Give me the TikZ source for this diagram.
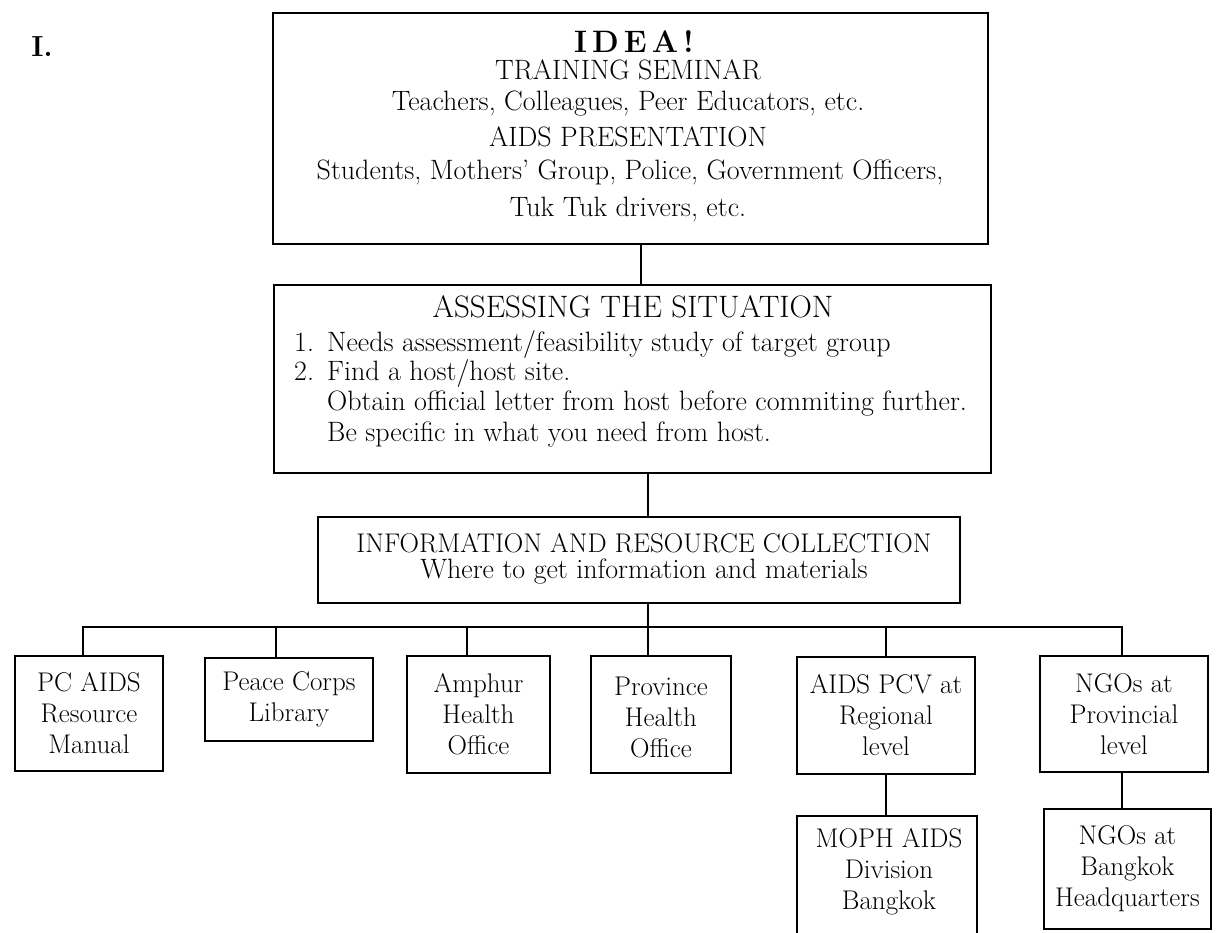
\documentclass[tikz,border=0pt]{standalone}
\usepackage{fontspec}
\begin{document}
\begin{tikzpicture}[x=1pt,y=-1pt,
  box/.style={draw,line width=1.9pt,inner sep=0pt,anchor=north west},
  btxt/.style={font=\fontsize{27}{31}\selectfont,align=center,inner sep=0pt},
  ttxt/.style={font=\fontsize{28}{32}\selectfont,inner sep=0pt,anchor=base},
  conn/.style={line width=1.9pt}]
\useasboundingbox (0,0) rectangle (1216,933);
% section label
\node[font=\fontsize{29}{32}\selectfont\bfseries,inner sep=0pt,anchor=base] (lab) at (42,57) {I.};
% top box
\node[box,minimum width=715pt,minimum height=231pt] (top) at (272,12) {};
\node[inner sep=0pt,anchor=base,font=\fontsize{31}{34}\selectfont\bfseries] (idea) at (634,53) {I\kern5pt D\kern5pt E\kern5pt A\kern5pt !};
\node[ttxt] (t1) at (628,80) {TRAINING SEMINAR};
\node[ttxt] (t2) at (628,111) {Teachers, Colleagues, Peer Educators, etc.};
\node[ttxt] (t3) at (628,147) {AIDS PRESENTATION};
\node[ttxt] (t4) at (630,180) {Students, Mothers' Group, Police, Government Officers,};
\node[ttxt] (t5) at (628,217) {Tuk Tuk drivers, etc.};
% assessing box
\node[box,minimum width=717pt,minimum height=188pt] (ass) at (273,284) {};
\node[font=\fontsize{31}{34}\selectfont,inner sep=0pt,anchor=base] (a0) at (633,318) {ASSESSING THE SITUATION};
\node[ttxt,anchor=base west] (a1) at (294,352) {\makebox[33pt][l]{1.}Needs assessment/feasibility study of target group};
\node[ttxt,anchor=base west] (a2) at (294,381) {\makebox[33pt][l]{2.}Find a host/host site.};
\node[ttxt,anchor=base west] (a3) at (327,410) {Obtain official letter from host before commiting further.};
\node[ttxt,anchor=base west] (a4) at (327,441) {Be specific in what you need from host.};
% info box
\node[box,minimum width=642pt,minimum height=86pt] (info) at (317,516) {};
\node[ttxt,font=\fontsize{27}{30}\selectfont] (i1) at (644,552) {INFORMATION AND RESOURCE COLLECTION};
\node[ttxt] (i2) at (644,578) {Where to get information and materials};
% connectors top
\draw[conn] (top.south -| 641,0) -- (ass.north -| 641,0);
\draw[conn] (ass.south -| 648,0) -- (info.north -| 648,0);
% bottom boxes
\node[box,minimum width=148pt,minimum height=115pt] (b1) at (14,655) {};
\node[btxt] (b1t) at (b1.center) {PC AIDS\\Resource\\Manual};
\node[box,minimum width=168pt,minimum height=83pt] (b2) at (204,657) {};
\node[btxt] (b2t) at (b2.center) {Peace Corps\\Library};
\node[box,minimum width=143pt,minimum height=117pt] (b3) at (406,655) {};
\node[btxt] (b3t) at (b3.center) {Amphur\\Health\\Office};
\node[box,minimum width=140pt,minimum height=117pt] (b4) at (590,655) {};
\node[btxt] (b4t) at ([yshift=-3pt]b4.center) {Province\\Health\\Office};
\node[box,minimum width=178pt,minimum height=117pt] (b5) at (796,656) {};
\node[btxt] (b5t) at (b5.center) {AIDS PCV at\\Regional\\level};
\node[box,minimum width=168pt,minimum height=116pt] (b6) at (1039,655) {};
\node[btxt] (b6t) at (b6.center) {NGOs at\\Provincial\\level};
\node[box,minimum width=180pt,minimum height=130pt] (b7) at (796,815) {};
\node[btxt] (b7t) at (889,872) {MOPH AIDS\\Division\\Bangkok};
\node[box,minimum width=167pt,minimum height=120pt] (b8) at (1043,808) {};
\node[btxt] (b8t) at (b8.center) {NGOs at\\Bangkok\\Headquarters};
% bus
\coordinate (bus) at (648,627);
\draw[conn] (info.south -| bus) -- (bus);
\draw[conn] (b1.north -| 83,0) |- (bus);
\draw[conn] (b6.north -| 1122,0) |- (bus);
\draw[conn] (b2.north -| 276,0) -- (bus -| 276,0);
\draw[conn] (b3.north -| 467,0) -- (bus -| 467,0);
\draw[conn] (b4.north -| 648,0) -- (bus);
\draw[conn] (b5.north -| 886,0) -- (bus -| 886,0);
\draw[conn] (b5.south -| 886,0) -- (b7.north -| 886,0);
\draw[conn] (b6.south -| 1122,0) -- (b8.north -| 1122,0);
\end{tikzpicture}
\end{document}
